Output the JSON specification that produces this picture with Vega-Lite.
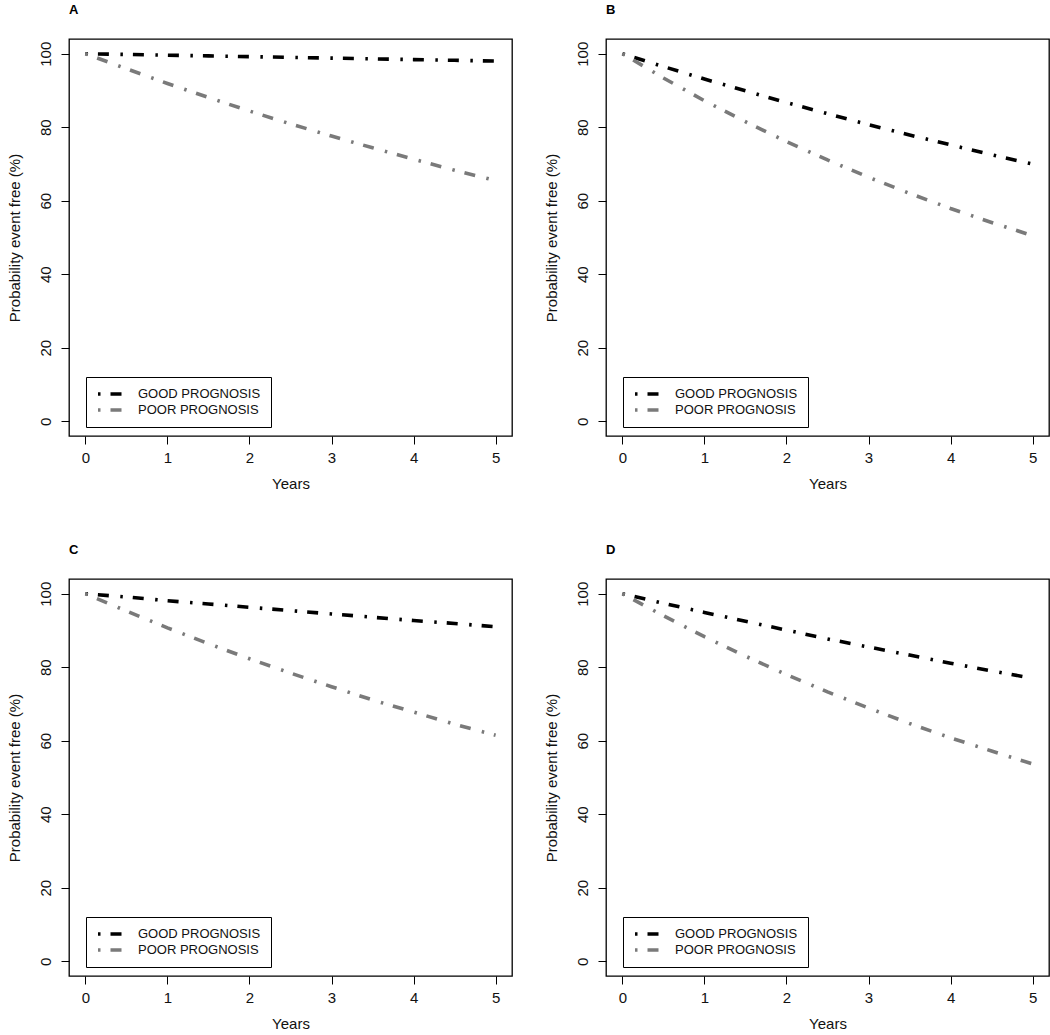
{
  "$schema": "https://vega.github.io/schema/vega-lite/v6.json",
  "background": "white",
  "padding": {"left": 6, "top": 3, "right": 5, "bottom": 5},
  "datasets": {
    "surv": [
      {"panel": "A", "group": "GOOD PROGNOSIS", "years": 0, "prob": 100},
      {"panel": "A", "group": "GOOD PROGNOSIS", "years": 0.5, "prob": 99.8},
      {"panel": "A", "group": "GOOD PROGNOSIS", "years": 1, "prob": 99.6},
      {"panel": "A", "group": "GOOD PROGNOSIS", "years": 1.5, "prob": 99.4},
      {"panel": "A", "group": "GOOD PROGNOSIS", "years": 2, "prob": 99.2},
      {"panel": "A", "group": "GOOD PROGNOSIS", "years": 2.5, "prob": 99.0},
      {"panel": "A", "group": "GOOD PROGNOSIS", "years": 3, "prob": 98.8},
      {"panel": "A", "group": "GOOD PROGNOSIS", "years": 3.5, "prob": 98.6},
      {"panel": "A", "group": "GOOD PROGNOSIS", "years": 4, "prob": 98.4},
      {"panel": "A", "group": "GOOD PROGNOSIS", "years": 4.5, "prob": 98.2},
      {"panel": "A", "group": "GOOD PROGNOSIS", "years": 5, "prob": 98.0},
      {"panel": "A", "group": "POOR PROGNOSIS", "years": 0, "prob": 100},
      {"panel": "A", "group": "POOR PROGNOSIS", "years": 0.5, "prob": 95.9},
      {"panel": "A", "group": "POOR PROGNOSIS", "years": 1, "prob": 91.9},
      {"panel": "A", "group": "POOR PROGNOSIS", "years": 1.5, "prob": 88.1},
      {"panel": "A", "group": "POOR PROGNOSIS", "years": 2, "prob": 84.4},
      {"panel": "A", "group": "POOR PROGNOSIS", "years": 2.5, "prob": 80.9},
      {"panel": "A", "group": "POOR PROGNOSIS", "years": 3, "prob": 77.6},
      {"panel": "A", "group": "POOR PROGNOSIS", "years": 3.5, "prob": 74.4},
      {"panel": "A", "group": "POOR PROGNOSIS", "years": 4, "prob": 71.3},
      {"panel": "A", "group": "POOR PROGNOSIS", "years": 4.5, "prob": 68.3},
      {"panel": "A", "group": "POOR PROGNOSIS", "years": 5, "prob": 65.5},
      {"panel": "B", "group": "GOOD PROGNOSIS", "years": 0, "prob": 100},
      {"panel": "B", "group": "GOOD PROGNOSIS", "years": 0.5, "prob": 96.5},
      {"panel": "B", "group": "GOOD PROGNOSIS", "years": 1, "prob": 93.1},
      {"panel": "B", "group": "GOOD PROGNOSIS", "years": 1.5, "prob": 89.9},
      {"panel": "B", "group": "GOOD PROGNOSIS", "years": 2, "prob": 86.7},
      {"panel": "B", "group": "GOOD PROGNOSIS", "years": 2.5, "prob": 83.7},
      {"panel": "B", "group": "GOOD PROGNOSIS", "years": 3, "prob": 80.7},
      {"panel": "B", "group": "GOOD PROGNOSIS", "years": 3.5, "prob": 77.9},
      {"panel": "B", "group": "GOOD PROGNOSIS", "years": 4, "prob": 75.2},
      {"panel": "B", "group": "GOOD PROGNOSIS", "years": 4.5, "prob": 72.5},
      {"panel": "B", "group": "GOOD PROGNOSIS", "years": 5, "prob": 70.0},
      {"panel": "B", "group": "POOR PROGNOSIS", "years": 0, "prob": 100},
      {"panel": "B", "group": "POOR PROGNOSIS", "years": 0.5, "prob": 93.4},
      {"panel": "B", "group": "POOR PROGNOSIS", "years": 1, "prob": 87.2},
      {"panel": "B", "group": "POOR PROGNOSIS", "years": 1.5, "prob": 81.5},
      {"panel": "B", "group": "POOR PROGNOSIS", "years": 2, "prob": 76.1},
      {"panel": "B", "group": "POOR PROGNOSIS", "years": 2.5, "prob": 71.1},
      {"panel": "B", "group": "POOR PROGNOSIS", "years": 3, "prob": 66.4},
      {"panel": "B", "group": "POOR PROGNOSIS", "years": 3.5, "prob": 62.0},
      {"panel": "B", "group": "POOR PROGNOSIS", "years": 4, "prob": 57.9},
      {"panel": "B", "group": "POOR PROGNOSIS", "years": 4.5, "prob": 54.1},
      {"panel": "B", "group": "POOR PROGNOSIS", "years": 5, "prob": 50.5},
      {"panel": "C", "group": "GOOD PROGNOSIS", "years": 0, "prob": 100},
      {"panel": "C", "group": "GOOD PROGNOSIS", "years": 0.5, "prob": 99.1},
      {"panel": "C", "group": "GOOD PROGNOSIS", "years": 1, "prob": 98.1},
      {"panel": "C", "group": "GOOD PROGNOSIS", "years": 1.5, "prob": 97.2},
      {"panel": "C", "group": "GOOD PROGNOSIS", "years": 2, "prob": 96.3},
      {"panel": "C", "group": "GOOD PROGNOSIS", "years": 2.5, "prob": 95.4},
      {"panel": "C", "group": "GOOD PROGNOSIS", "years": 3, "prob": 94.5},
      {"panel": "C", "group": "GOOD PROGNOSIS", "years": 3.5, "prob": 93.6},
      {"panel": "C", "group": "GOOD PROGNOSIS", "years": 4, "prob": 92.7},
      {"panel": "C", "group": "GOOD PROGNOSIS", "years": 4.5, "prob": 91.9},
      {"panel": "C", "group": "GOOD PROGNOSIS", "years": 5, "prob": 91.0},
      {"panel": "C", "group": "POOR PROGNOSIS", "years": 0, "prob": 100},
      {"panel": "C", "group": "POOR PROGNOSIS", "years": 0.5, "prob": 95.3},
      {"panel": "C", "group": "POOR PROGNOSIS", "years": 1, "prob": 90.7},
      {"panel": "C", "group": "POOR PROGNOSIS", "years": 1.5, "prob": 86.4},
      {"panel": "C", "group": "POOR PROGNOSIS", "years": 2, "prob": 82.3},
      {"panel": "C", "group": "POOR PROGNOSIS", "years": 2.5, "prob": 78.4},
      {"panel": "C", "group": "POOR PROGNOSIS", "years": 3, "prob": 74.7},
      {"panel": "C", "group": "POOR PROGNOSIS", "years": 3.5, "prob": 71.1},
      {"panel": "C", "group": "POOR PROGNOSIS", "years": 4, "prob": 67.8},
      {"panel": "C", "group": "POOR PROGNOSIS", "years": 4.5, "prob": 64.5},
      {"panel": "C", "group": "POOR PROGNOSIS", "years": 5, "prob": 61.5},
      {"panel": "D", "group": "GOOD PROGNOSIS", "years": 0, "prob": 100},
      {"panel": "D", "group": "GOOD PROGNOSIS", "years": 0.5, "prob": 97.4},
      {"panel": "D", "group": "GOOD PROGNOSIS", "years": 1, "prob": 94.9},
      {"panel": "D", "group": "GOOD PROGNOSIS", "years": 1.5, "prob": 92.5},
      {"panel": "D", "group": "GOOD PROGNOSIS", "years": 2, "prob": 90.1},
      {"panel": "D", "group": "GOOD PROGNOSIS", "years": 2.5, "prob": 87.7},
      {"panel": "D", "group": "GOOD PROGNOSIS", "years": 3, "prob": 85.5},
      {"panel": "D", "group": "GOOD PROGNOSIS", "years": 3.5, "prob": 83.3},
      {"panel": "D", "group": "GOOD PROGNOSIS", "years": 4, "prob": 81.1},
      {"panel": "D", "group": "GOOD PROGNOSIS", "years": 4.5, "prob": 79.0},
      {"panel": "D", "group": "GOOD PROGNOSIS", "years": 5, "prob": 77.0},
      {"panel": "D", "group": "POOR PROGNOSIS", "years": 0, "prob": 100},
      {"panel": "D", "group": "POOR PROGNOSIS", "years": 0.5, "prob": 94.0},
      {"panel": "D", "group": "POOR PROGNOSIS", "years": 1, "prob": 88.3},
      {"panel": "D", "group": "POOR PROGNOSIS", "years": 1.5, "prob": 83.0},
      {"panel": "D", "group": "POOR PROGNOSIS", "years": 2, "prob": 78.0},
      {"panel": "D", "group": "POOR PROGNOSIS", "years": 2.5, "prob": 73.3},
      {"panel": "D", "group": "POOR PROGNOSIS", "years": 3, "prob": 68.9},
      {"panel": "D", "group": "POOR PROGNOSIS", "years": 3.5, "prob": 64.7},
      {"panel": "D", "group": "POOR PROGNOSIS", "years": 4, "prob": 60.8},
      {"panel": "D", "group": "POOR PROGNOSIS", "years": 4.5, "prob": 57.2},
      {"panel": "D", "group": "POOR PROGNOSIS", "years": 5, "prob": 53.7}
    ]
  },
  "columns": 2,
  "spacing": {"column": 30, "row": 51},
  "resolve": {"scale": {"color": "independent"}, "legend": {"color": "independent"}},
  "concat": [
    {
      "title": "A",
      "width": 443, "height": 397,
      "data": {"name": "surv"},
      "transform": [{"filter": "datum.panel === 'A'"}],
      "mark": {"type": "line", "strokeWidth": 3.6, "strokeDash": [2.5, 10, 11, 11.5], "strokeCap": "butt"},
      "encoding": {
        "x": {"field": "years", "type": "quantitative", "title": "Years", "scale": {"domain": [-0.2, 5.2], "nice": false, "zero": false}, "axis": {"values": [0, 1, 2, 3, 4, 5]}},
        "y": {"field": "prob", "type": "quantitative", "title": "Probability event free (%)", "scale": {"domain": [-4, 104], "nice": false, "zero": false}, "axis": {"values": [0, 20, 40, 60, 80, 100]}},
        "color": {"field": "group", "type": "nominal", "scale": {"domain": ["GOOD PROGNOSIS", "POOR PROGNOSIS"], "range": ["#000000", "#7a7a7a"]},
          "legend": {"title": null, "orient": "none", "legendX": 17, "legendY": 338}}
      }
    },
    {
      "title": "B",
      "width": 443, "height": 397,
      "data": {"name": "surv"},
      "transform": [{"filter": "datum.panel === 'B'"}],
      "mark": {"type": "line", "strokeWidth": 3.6, "strokeDash": [2.5, 10, 11, 11.5], "strokeCap": "butt"},
      "encoding": {
        "x": {"field": "years", "type": "quantitative", "title": "Years", "scale": {"domain": [-0.2, 5.2], "nice": false, "zero": false}, "axis": {"values": [0, 1, 2, 3, 4, 5]}},
        "y": {"field": "prob", "type": "quantitative", "title": "Probability event free (%)", "scale": {"domain": [-4, 104], "nice": false, "zero": false}, "axis": {"values": [0, 20, 40, 60, 80, 100]}},
        "color": {"field": "group", "type": "nominal", "scale": {"domain": ["GOOD PROGNOSIS", "POOR PROGNOSIS"], "range": ["#000000", "#7a7a7a"]},
          "legend": {"title": null, "orient": "none", "legendX": 17, "legendY": 338}}
      }
    },
    {
      "title": "C",
      "width": 443, "height": 397,
      "data": {"name": "surv"},
      "transform": [{"filter": "datum.panel === 'C'"}],
      "mark": {"type": "line", "strokeWidth": 3.6, "strokeDash": [2.5, 10, 11, 11.5], "strokeCap": "butt"},
      "encoding": {
        "x": {"field": "years", "type": "quantitative", "title": "Years", "scale": {"domain": [-0.2, 5.2], "nice": false, "zero": false}, "axis": {"values": [0, 1, 2, 3, 4, 5]}},
        "y": {"field": "prob", "type": "quantitative", "title": "Probability event free (%)", "scale": {"domain": [-4, 104], "nice": false, "zero": false}, "axis": {"values": [0, 20, 40, 60, 80, 100]}},
        "color": {"field": "group", "type": "nominal", "scale": {"domain": ["GOOD PROGNOSIS", "POOR PROGNOSIS"], "range": ["#000000", "#7a7a7a"]},
          "legend": {"title": null, "orient": "none", "legendX": 17, "legendY": 338}}
      }
    },
    {
      "title": "D",
      "width": 443, "height": 397,
      "data": {"name": "surv"},
      "transform": [{"filter": "datum.panel === 'D'"}],
      "mark": {"type": "line", "strokeWidth": 3.6, "strokeDash": [2.5, 10, 11, 11.5], "strokeCap": "butt"},
      "encoding": {
        "x": {"field": "years", "type": "quantitative", "title": "Years", "scale": {"domain": [-0.2, 5.2], "nice": false, "zero": false}, "axis": {"values": [0, 1, 2, 3, 4, 5]}},
        "y": {"field": "prob", "type": "quantitative", "title": "Probability event free (%)", "scale": {"domain": [-4, 104], "nice": false, "zero": false}, "axis": {"values": [0, 20, 40, 60, 80, 100]}},
        "color": {"field": "group", "type": "nominal", "scale": {"domain": ["GOOD PROGNOSIS", "POOR PROGNOSIS"], "range": ["#000000", "#7a7a7a"]},
          "legend": {"title": null, "orient": "none", "legendX": 17, "legendY": 338}}
      }
    }
  ],
  "config": {
    "font": "Liberation Sans",
    "view": {"stroke": "#000000", "strokeWidth": 1.3},
    "title": {"anchor": "start", "frame": "group", "fontSize": 13, "fontWeight": "bold", "font": "Liberation Sans", "color": "#000000", "offset": 22},
    "legend": {
      "strokeColor": "#000000", "padding": 10, "symbolType": "stroke", "symbolSize": 729, "symbolStrokeWidth": 3.6,
      "symbolDash": [2.5, 10, 11, 20],
      "clipHeight": 14, "rowPadding": 2, "labelFontSize": 13, "labelFont": "Liberation Sans", "labelOffset": 11, "labelColor": "#111111"
    },
    "axis": {
      "grid": false, "domain": false, "ticks": true, "tickSize": 8, "tickColor": "#000000", "tickWidth": 1,
      "labelFont": "Liberation Sans", "labelFontSize": 15, "labelColor": "#111111",
      "titleFont": "Liberation Sans", "titleFontSize": 15, "titleFontWeight": "normal", "titleColor": "#111111"
    },
    "axisX": {"labelPadding": 6, "titlePadding": 11, "labelFlush": false},
    "axisY": {"labelAngle": -90, "labelAlign": "center", "labelBaseline": "alphabetic", "labelPadding": 11, "titlePadding": 16, "labelFlush": false}
  }
}
